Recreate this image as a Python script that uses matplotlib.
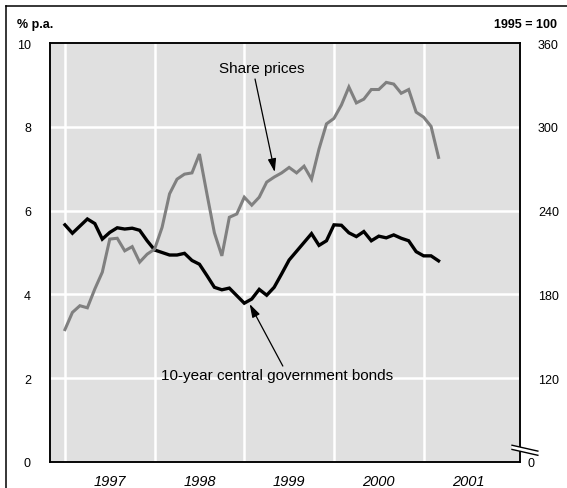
import matplotlib
matplotlib.use('Agg')
import numpy as np
import matplotlib.pyplot as plt
from matplotlib.lines import Line2D
from matplotlib.patches import Polygon

plt.rcParams['font.family'] = ['Liberation Sans', 'DejaVu Sans']

# monthly data, Jan 1997 .. Mar 2001
start_year = 1997
bond_yield = [5.66, 5.46, 5.63, 5.80, 5.69, 5.32, 5.48, 5.59, 5.56, 5.58,
              5.53, 5.28, 5.06, 5.00, 4.94, 4.94, 4.98, 4.81, 4.72, 4.45,
              4.17, 4.11, 4.15, 3.97, 3.79, 3.89, 4.12, 3.98, 4.17, 4.49,
              4.82, 5.03, 5.24, 5.45, 5.17, 5.28, 5.66, 5.65, 5.47, 5.38,
              5.50, 5.28, 5.39, 5.35, 5.42, 5.34, 5.28, 5.02, 4.92, 4.92,
              4.80]
share_prices = [154.8, 167.1, 171.9, 170.4, 183.9, 195.9, 219.6, 220.2, 211.2, 214.2,
                203.1, 208.8, 212.4, 228.0, 252.0, 262.5, 266.1, 267.0, 280.5, 252.0,
                224.1, 207.6, 235.2, 237.6, 249.6, 243.9, 249.6, 260.4, 264.0, 267.0,
                270.9, 267.0, 271.8, 262.5, 284.1, 302.1, 306.0, 315.6, 328.5, 317.1,
                319.8, 326.7, 326.7, 331.8, 330.6, 324.0, 326.7, 310.5, 306.9, 300.3,
                278.1]
years = [1997, 1998, 1999, 2000, 2001]
left_ticks = [0, 2, 4, 6, 8, 10]
right_ticks = [120, 180, 240, 300, 360]

x = start_year + np.arange(len(bond_yield)) / 12.0

W, H = 567, 489
fig = plt.figure(figsize=(W / 100, H / 100), dpi=100)
ax = fig.add_axes([50 / W, 1 - 463 / H, 470 / W, 419 / H])
ax.set_facecolor('#e0e0e0')

ax.set_xlim(start_year - 2 / 12, start_year + 60.9 / 12)
ax.set_ylim(0, 10)

# white grid
for yr in years:
    ax.axvline(yr, color='white', lw=1.8, zorder=1)
for v in left_ticks[1:-1]:
    ax.axhline(v, color='white', lw=1.8, zorder=1)

ax.plot(x, bond_yield, color='black', lw=2.4, zorder=4, solid_joinstyle='miter')

ax.set_yticks(left_ticks)
ax.set_yticklabels([str(t) for t in left_ticks], fontsize=9)
ax.set_xticks([y + 0.5 for y in years])
ax.set_xticklabels([str(y) for y in years], fontsize=10.5, style='italic')
ax.tick_params(axis='y', length=0, pad=13.7)
ax.tick_params(axis='x', length=0, pad=8.3)

ax2 = ax.twinx()
ax2.set_ylim(60, 360)
ax2.plot(x, share_prices, color='#808080', lw=2.2, zorder=3, solid_joinstyle='miter')
ax2.set_yticks(right_ticks)
ax2.set_yticklabels([str(t) for t in right_ticks], fontsize=9)
ax2.tick_params(axis='y', length=0, pad=13)

for a in (ax, ax2):
    for s in a.spines.values():
        s.set_linewidth(1.1)
        s.set_color('black')

# axis break and zero label on the right axis
ax2.text(1.017, -0.002, '0', transform=ax2.transAxes, fontsize=9,
         ha='left', va='center')
gap = Polygon([[0.983, 0.040], [1.038, 0.026], [1.038, 0.016], [0.983, 0.030]],
              closed=True, transform=ax2.transAxes, facecolor='white',
              edgecolor='none', clip_on=False, zorder=5)
ax2.add_patch(gap)
for y0, y1 in ((0.040, 0.026), (0.030, 0.016)):
    ax2.plot([0.983, 1.038], [y0, y1], transform=ax2.transAxes,
             color='black', lw=1.0, clip_on=False, zorder=6)

# unit labels
fig.text(17 / W, 1 - 25 / H, '% p.a.', fontsize=9, fontweight='bold', va='center')
fig.text(557 / W, 1 - 25 / H, '1995 = 100', fontsize=9, fontweight='bold',
         va='center', ha='right')

# annotations
arrow = dict(arrowstyle='-|>,head_length=0.8,head_width=0.25', color='black',
             lw=0.9, mutation_scale=10, shrinkA=0, shrinkB=0)
ax.text(1999.2, 9.40, 'Share prices', fontsize=11, ha='center', va='center', zorder=6)
ax.annotate('', xy=(1999.34, 6.92), xytext=(1999.12, 9.14), arrowprops=arrow, zorder=6)
ax.text(1998.07, 2.08, '10-year central government bonds', fontsize=11,
        ha='left', va='center', zorder=6)
ax.annotate('', xy=(1999.06, 3.77), xytext=(1999.43, 2.29), arrowprops=arrow, zorder=6)

# outer frame
fig.add_artist(Line2D([6 / W, 6 / W], [0, 1 - 7 / H], color='black', lw=1.1))
fig.add_artist(Line2D([6 / W, 1], [1 - 7 / H, 1 - 7 / H], color='black', lw=1.1))

fig.savefig('out.png', dpi=100)
